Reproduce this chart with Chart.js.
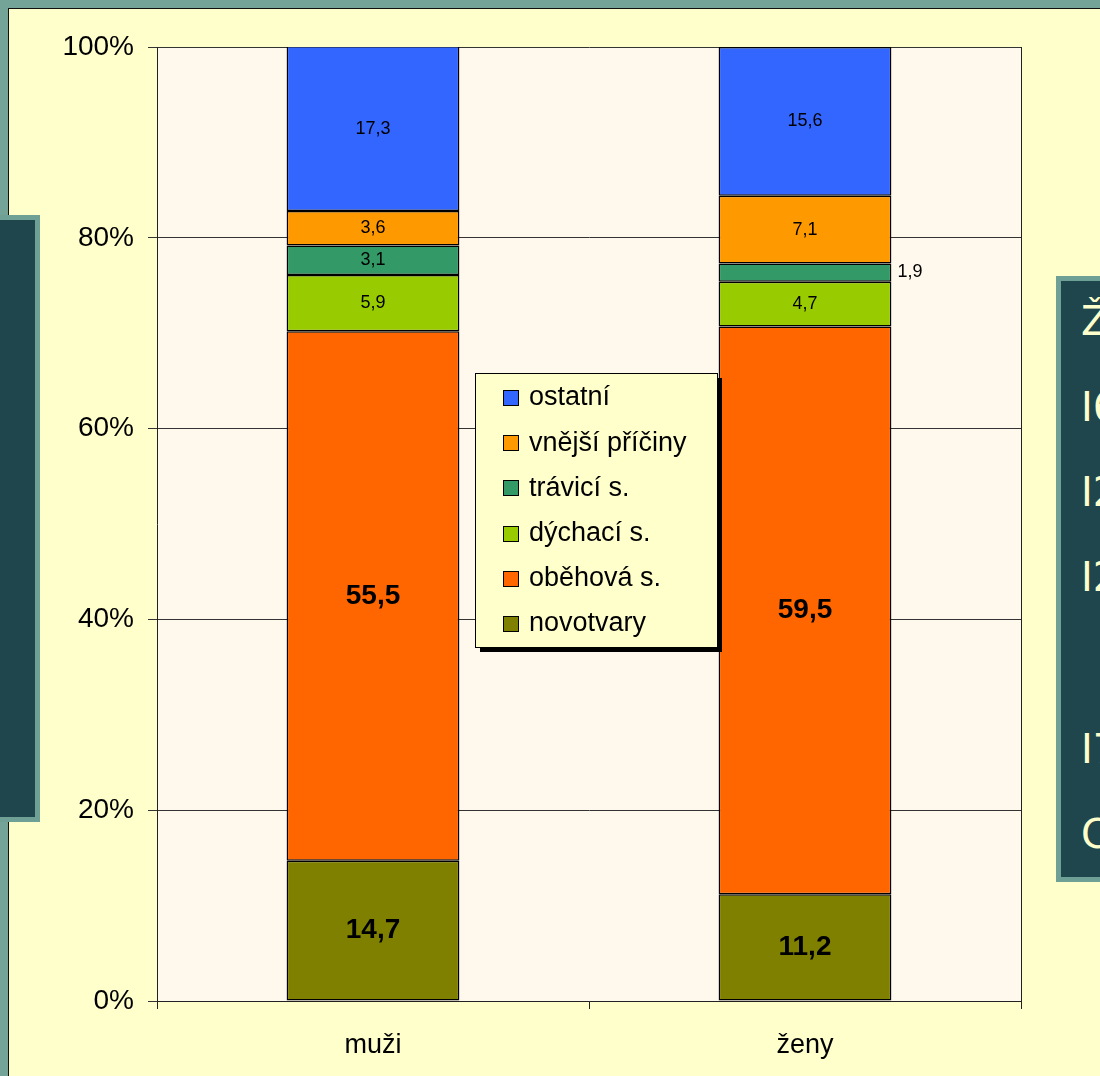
<!DOCTYPE html>
<html>
<head>
<meta charset="utf-8">
<script src="https://cdn.jsdelivr.net/npm/chart.js@4/dist/chart.umd.min.js"></script>
<style>
  html, body { margin: 0; padding: 0; }
  body { width: 1100px; height: 1076px; position: relative; overflow: hidden; background: #74a398; font-family: "Liberation Sans", Arial, sans-serif; }
  #sheet { position: absolute; left: 8px; top: 8px; right: -2px; bottom: -2px; background: #ffffcc; border-left: 1px solid #111; border-top: 1px solid #111; }
  #wrap { position: absolute; left: 0; top: 0; width: 1100px; height: 1076px; }
  .slidebox { position: absolute; background: #1e464c; border: 5px solid #6fa095; box-sizing: border-box; overflow: hidden; }
  #boxLeft { left: -10px; top: 215px; width: 50px; height: 607px; }
  #boxRight { left: 1056px; top: 276px; width: 60px; height: 606px; }
  #boxRight div { position: absolute; left: 20px; color: #ffffcc; font-family: "DejaVu Sans", sans-serif; font-size: 40px; line-height: 40px; white-space: nowrap; }
</style>
</head>
<body>
<div id="sheet"></div>
<div id="wrap"><canvas id="chart" width="1100" height="1076"></canvas></div>
<div class="slidebox" id="boxLeft"></div>
<div class="slidebox" id="boxRight">
  <div style="top:20px">Ž</div>
  <div style="top:106px">I6</div>
  <div style="top:191px">I2</div>
  <div style="top:276px">I2</div>
  <div style="top:448px">I7</div>
  <div style="top:533px">C</div>
</div>
<script>
const categories = ['muži', 'ženy'];
const seriesNames = ['novotvary', 'oběhová s.', 'dýchací s.', 'trávicí s.', 'vnější příčiny', 'ostatní'];
const seriesColors = ['#808000', '#ff6600', '#99cc00', '#339966', '#ff9900', '#3366ff'];
const novotvary = [14.7, 11.2];
const obehova = [55.5, 59.5];
const dychaci = [5.9, 4.7];
const travici = [3.1, 1.9];
const vnejsi = [3.6, 7.1];
const ostatni = [17.3, 15.6];
const boldSeries = [true, true, false, false, false, false];
const yTicks = [0, 20, 40, 60, 80, 100];

const FONT = '"Liberation Sans", Arial, sans-serif';
const seriesValues = [novotvary, obehova, dychaci, travici, vnejsi, ostatni];

function fmt(v) {
  return v.toFixed(1).replace('.', ',');
}

const plotBackground = {
  id: 'plotBackground',
  beforeDraw(chart) {
    const { ctx, chartArea: a } = chart;
    ctx.save();
    ctx.fillStyle = '#fff8ec';
    ctx.fillRect(a.left, a.top, a.right - a.left, a.bottom - a.top);
    ctx.restore();
  },
  afterDraw(chart) {
    const { ctx, chartArea: a } = chart;
    ctx.save();
    ctx.strokeStyle = '#222';
    ctx.lineWidth = 1;
    ctx.beginPath();
    ctx.moveTo(Math.round(a.right) + 0.5, a.top);
    ctx.lineTo(Math.round(a.right) + 0.5, a.bottom);
    ctx.stroke();
    ctx.restore();
  },
};

const segmentLabels = {
  id: 'segmentLabels',
  afterDatasetsDraw(chart) {
    const { ctx } = chart;
    ctx.save();
    ctx.fillStyle = '#000';
    chart.data.datasets.forEach((ds, i) => {
      const meta = chart.getDatasetMeta(i);
      meta.data.forEach((bar, j) => {
        const { x, y, base, width } = bar.getProps(['x', 'y', 'base', 'width'], true);
        const h = Math.abs(base - y);
        const cy = (y + base) / 2;
        if (boldSeries[i]) {
          ctx.font = 'bold 28px ' + FONT;
        } else {
          ctx.font = '18px ' + FONT;
        }
        ctx.textBaseline = 'middle';
        if (h < 20) {
          ctx.textAlign = 'left';
          ctx.fillText(fmt(ds.data[j]), x + width / 2 + 6, cy - 1);
        } else {
          ctx.textAlign = 'center';
          ctx.fillText(fmt(ds.data[j]), x, cy);
        }
      });
    });
    ctx.restore();
  },
};

const boxLegend = {
  id: 'boxLegend',
  afterDraw(chart) {
    const { ctx } = chart;
    const bx = 475, by = 373, bw = 242, bh = 274;
    ctx.save();
    ctx.fillStyle = '#000';
    ctx.fillRect(bx + 5, by + 5, bw, bh);
    ctx.fillStyle = '#ffffcc';
    ctx.fillRect(bx, by, bw, bh);
    ctx.strokeStyle = '#000';
    ctx.lineWidth = 1;
    ctx.strokeRect(bx + 0.5, by + 0.5, bw, bh);
    ctx.font = '27px ' + FONT;
    ctx.textBaseline = 'middle';
    ctx.textAlign = 'left';
    const order = seriesNames.map((n, i) => i).reverse();
    order.forEach((idx, row) => {
      const cy = 398 + row * 45.2;
      ctx.fillStyle = seriesColors[idx];
      ctx.fillRect(503, Math.round(cy - 8), 15, 15);
      ctx.strokeStyle = '#000';
      ctx.strokeRect(503.5, Math.round(cy - 8) + 0.5, 15, 15);
      ctx.fillStyle = '#000';
      ctx.fillText(seriesNames[idx], 529, cy);
    });
    ctx.restore();
  },
};

new Chart(document.getElementById('chart'), {
  type: 'bar',
  data: {
    labels: categories,
    datasets: seriesNames.map((name, i) => ({
      label: name,
      data: seriesValues[i],
      backgroundColor: seriesColors[i],
      borderColor: '#000',
      borderWidth: 1.5,
      borderSkipped: false,
      barPercentage: 0.4,
      categoryPercentage: 1,
    })),
  },
  options: {
    responsive: false,
    animation: false,
    layout: { padding: { left: 0, top: 47, right: 79, bottom: 0 } },
    plugins: { legend: { display: false }, tooltip: { enabled: false } },
    scales: {
      x: {
        stacked: true,
        afterFit: s => { s.height = 75; },
        grid: { drawOnChartArea: false, drawTicks: true, tickLength: 8, color: '#222' },
        border: { display: true, color: '#222' },
        ticks: { color: '#000', font: { family: FONT, size: 27 }, padding: 20 },
      },
      y: {
        stacked: true,
        min: 0,
        max: 100,
        afterFit: s => { s.width = 157; },
        afterBuildTicks: s => { s.ticks = yTicks.map(v => ({ value: v })); },
        grid: { color: '#333', tickLength: 9, drawTicks: true },
        border: { display: true, color: '#222' },
        ticks: { color: '#000', font: { family: FONT, size: 28 }, padding: 14, callback: v => v + '%' },
      },
    },
  },
  plugins: [plotBackground, segmentLabels, boxLegend],
});
</script>
</body>
</html>
